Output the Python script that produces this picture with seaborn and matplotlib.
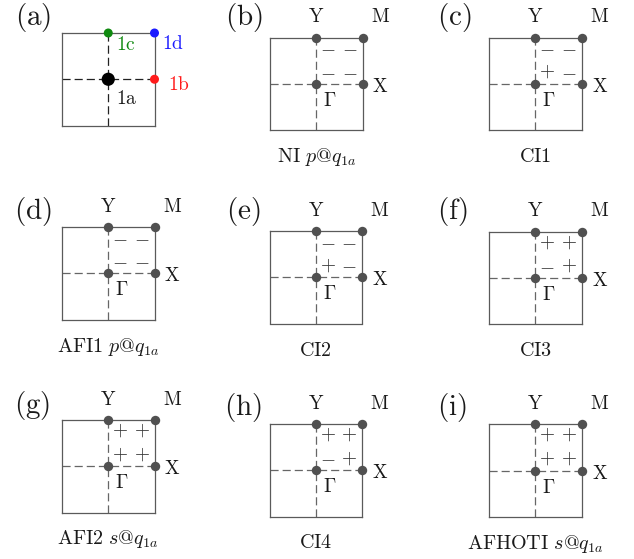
import numpy as np
import pandas as pd
import seaborn as sns
import matplotlib.pyplot as plt

sns.set_theme(style="white")
plt.rcParams["mathtext.fontset"] = "cm"
plt.rcParams["font.family"] = ["DejaVu Serif"]

# ---------------- data ----------------
panel_tags = ["(a)", "(b)", "(c)", "(d)", "(e)", "(f)", "(g)", "(h)", "(i)"]
captions = ["",
            r"$\mathrm{NI}\ p\mathrm{@}q_{1a}$",
            r"$\mathrm{CI1}$",
            r"$\mathrm{AFI1}\ p\mathrm{@}q_{1a}$",
            r"$\mathrm{CI2}$",
            r"$\mathrm{CI3}$",
            r"$\mathrm{AFI2}\ s\mathrm{@}q_{1a}$",
            r"$\mathrm{CI4}$",
            r"$\mathrm{AFHOTI}\ s\mathrm{@}q_{1a}$"]
# symmetry-indicator signs (upper row, lower row) for panels b..i
sign_rows = [None,
             ["--", "--"],
             ["--", "+-"],
             ["--", "--"],
             ["--", "+-"],
             ["++", "-+"],
             ["++", "++"],
             ["++", "-+"],
             ["++", "++"]]

# high-symmetry points of the Brillouin zone
hs_names = [r"$\Gamma$", r"$\mathrm{X}$", r"$\mathrm{Y}$", r"$\mathrm{M}$"]
hs_kx = [0, 1, 0, 1]
hs_ky = [0, 0, 1, 1]

# Wyckoff positions (panel a)
wy_names = ["1a", "1b", "1c", "1d"]
wy_x = [0, 1, 0, 1]
wy_y = [0, 0, 1, 1]
wy_colors = ["#000000", "#ff1a1a", "#108a10", "#1a1aff"]

# ---------------- layout ----------------
W, H = 634, 559
S = 92.5
sq_left = [62, 270, 489, 62, 269.5, 489, 62, 269.5, 489]
sq_top = [33, 37.5, 37.5, 227, 231, 231.5, 420, 424, 424.3]
tag_xy = [(33, 18), (244, 18), (454, 18), (33, 212), (243, 212), (452, 212),
          (32, 405), (243, 407), (452, 408)]
cap_base = 32

PX = 0.72  # px -> points
hs_off = [(7, -8), (10, -3), (0, 11), (18, 11)]
hs_ha = ["left", "left", "center", "center"]
hs_va = ["top", "center", "bottom", "bottom"]
wy_off = [(8, -20), (13, -6), (8, -12), (7, -11)]
sign_x = [0.255, 0.72]
sign_y = [0.77, 0.255]

dot_c = "#505050"
border_c = "#5a5a5a"
dash_c = "#666666"
txt_c = "#1a1a1a"

fig = plt.figure(figsize=(W / 100, H / 100), dpi=100)

for i in range(9):
    l, t = sq_left[i], sq_top[i]
    ax = fig.add_axes([l / W, 1 - (t + S) / H, S / W, S / H])
    ax.set_facecolor("white")
    first = (i == 0)
    dc = "#222222" if first else dash_c
    ax.axhline(0, color=dc, lw=0.9, dashes=(6.5, 3.2), zorder=1)
    ax.axvline(0, color=dc, lw=0.9, dashes=(6.5, 3.2), zorder=1)

    if first:
        df = pd.DataFrame({"kx": wy_x, "ky": wy_y, "site": wy_names})
        sns.scatterplot(data=df, x="kx", y="ky", hue="site",
                        palette=dict(zip(wy_names, wy_colors)),
                        size="site", sizes={"1a": 90, "1b": 42, "1c": 42, "1d": 42},
                        legend=False, linewidth=0, ax=ax, zorder=5, clip_on=False)
        for n, x, y, c, (dx, dy) in zip(wy_names, wy_x, wy_y, wy_colors, wy_off):
            ax.annotate(r"$\mathrm{%s}$" % n, (x, y), xytext=(dx * PX, dy * PX),
                        textcoords="offset points", ha="left", va="center",
                        fontsize=14, color=c if n != "1a" else txt_c)
    else:
        df = pd.DataFrame({"kx": hs_kx, "ky": hs_ky, "name": hs_names})
        sns.scatterplot(data=df, x="kx", y="ky", color=dot_c, s=46,
                        linewidth=0, ax=ax, zorder=5, clip_on=False, legend=False)
        for n, x, y, (dx, dy), ha, va in zip(hs_names, hs_kx, hs_ky, hs_off, hs_ha, hs_va):
            ax.annotate(n, (x, y), xytext=(dx * PX, dy * PX),
                        textcoords="offset points", ha=ha, va=va,
                        fontsize=14, color=txt_c)
        for r, row in enumerate(sign_rows[i]):
            for c_, s in enumerate(row):
                sym = r"$-$" if s == "-" else r"$+$"
                ax.text(sign_x[c_], sign_y[r], sym, ha="center", va="center",
                        fontsize=14, color="#333333")
        fig.text((l + S / 2) / W, 1 - (t + S + cap_base) / H, captions[i],
                 ha="center", va="baseline", fontsize=14.5, color=txt_c)

    ax.set_xlim(-1, 1)
    ax.set_ylim(-1, 1)
    ax.set_xticks([])
    ax.set_yticks([])
    ax.set_xlabel("")
    ax.set_ylabel("")
    for sp in ax.spines.values():
        sp.set_visible(True)
        sp.set_color(border_c)
        sp.set_linewidth(0.9)

    tx, ty = tag_xy[i]
    fig.text(tx / W, 1 - ty / H, r"$\mathrm{%s}$" % panel_tags[i],
             ha="center", va="center", fontsize=21, color=txt_c)

fig.savefig("out.png", dpi=100)
